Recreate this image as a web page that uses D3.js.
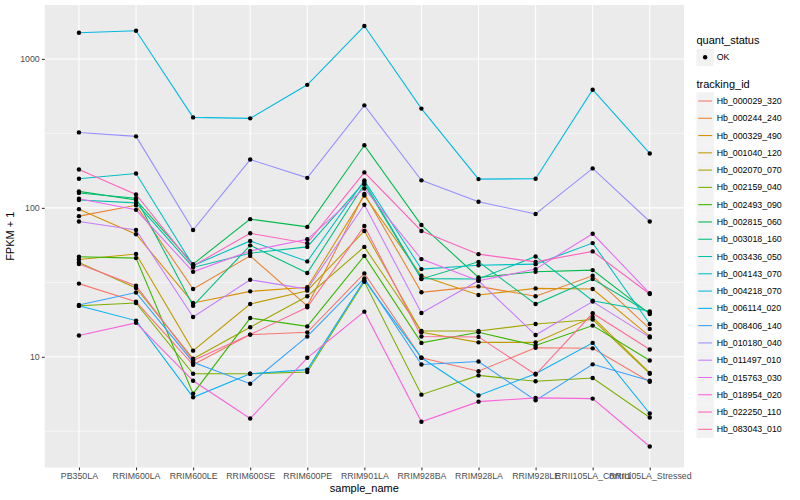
<!DOCTYPE html>
<html>
<head>
<meta charset="utf-8">
<script src="https://cdn.jsdelivr.net/npm/d3@7"></script>
<style>
  body { margin: 0; background: #fff; }
  svg { display: block; font-family: "Liberation Sans", Arial, sans-serif; }
</style>
</head>
<body>
<svg width="800" height="500"></svg>
<script>
// x categories
const samples = ["PB350LA", "RRIM600LA", "RRIM600LE", "RRIM600SE", "RRIM600PE", "RRIM901LA",
  "RRIM928BA", "RRIM928LA", "RRIM928LE", "RRII105LA_Control", "RRII105LA_Stressed"];

const trackingIds = ["Hb_000029_320", "Hb_000244_240", "Hb_000329_490", "Hb_001040_120", "Hb_002070_070",
  "Hb_002159_040", "Hb_002493_090", "Hb_002815_060", "Hb_003018_160", "Hb_003436_050",
  "Hb_004143_070", "Hb_004218_070", "Hb_006114_020", "Hb_008406_140", "Hb_010180_040",
  "Hb_011497_010", "Hb_015763_030", "Hb_018954_020", "Hb_022250_110", "Hb_083043_010"];

const colors = ["#F8766D", "#EA8331", "#D89000", "#C09B00", "#A3A500", "#7CAE00", "#39B600", "#00BB4E",
  "#00BF7D", "#00C1A3", "#00BFC4", "#00BAE0", "#00B0F6", "#35A2FF", "#9590FF", "#C77CFF",
  "#E76BF3", "#FA62DB", "#FF62BC", "#FF6C91"];

// FPKM + 1, one row per tracking id, in sample order
const fpkm = [
  [31, 23.4, 8.84, 14.1, 14.6, 36.3, 9.85, 8.0, 11.5, 11.4, 6.8],
  [88, 104, 28.5, 47.6, 22, 124, 27.1, 29.7, 25.5, 35, 15.4],
  [98, 66.5, 23, 27.5, 29.3, 121, 35, 26, 28.8, 28.5, 13.7],
  [45, 49, 11, 22.6, 27.8, 70, 14.6, 12.5, 12.5, 18.5, 7.8],
  [43, 29, 9.7, 15.8, 25.5, 54.7, 14.9, 14.9, 16.6, 17.8, 7.7],
  [22, 23, 7.7, 7.7, 7.9, 31.9, 5.57, 7.5, 6.85, 7.2, 3.91],
  [47, 46, 5.66, 18.2, 16, 47.6, 12.4, 14.6, 11.9, 16.2, 9.44],
  [129, 113, 41.9, 84, 74.5, 263, 76.7, 34.1, 37.2, 38.2, 19.4],
  [126, 116, 22, 56, 36.5, 144, 33.3, 43.4, 22.6, 33.3, 19.7],
  [113, 108, 39.8, 49.6, 54.7, 149, 33.5, 33.3, 47.2, 23.8, 20.2],
  [157, 170, 41, 60, 43.7, 153, 38.8, 41.2, 41.9, 58, 16.6],
  [1500, 1546, 405, 399, 670, 1663, 464, 156, 157, 621, 232],
  [22, 17.5, 5.35, 7.7, 8.2, 32.7, 9.85, 5.5, 7.7, 12.4, 4.16],
  [22.3, 27, 9.2, 6.6, 13.7, 33.6, 8.88, 9.3, 5.1, 8.9, 6.9],
  [321, 302, 71, 211, 159, 488, 153, 110, 91, 184, 81],
  [81, 71, 18.5, 32.9, 28.5, 105, 19.7, 32.4, 14, 23.5, 13.5],
  [115, 97, 37.2, 51.4, 61.5, 135, 45.3, 32.4, 38.8, 67, 26.7],
  [13.9, 16.9, 6.9, 3.85, 9.85, 20.1, 3.66, 5.0, 5.3, 5.24, 2.5],
  [181, 123, 40.8, 67.5, 57.9, 173, 70, 48.9, 43.4, 51, 26.4],
  [42, 30, 9.45, 14.1, 21.5, 75.5, 13.7, 13.6, 7.6, 19.6, 11.2]
];

const yTicks = [10, 100, 1000];
const yMinor = [Math.pow(10, 0.5), Math.pow(10, 1.5), Math.pow(10, 2.5)];

const svg = d3.select("svg");
const panel = { left: 44.7, right: 684, top: 5, bottom: 467.5 };

// scales (ggplot-like expansion)
const x = d3.scalePoint().domain(samples).range([panel.left, panel.right]).padding(0.6);
const allVals = fpkm.flat();
const lo = Math.log10(d3.min(allVals)), hi = Math.log10(d3.max(allVals));
const pad = (hi - lo) * 0.05;
const y = d3.scaleLog().domain([Math.pow(10, lo - pad), Math.pow(10, hi + pad)])
  .range([panel.bottom, panel.top]);

// panel background and grid
svg.append("rect")
  .attr("x", panel.left).attr("y", panel.top)
  .attr("width", panel.right - panel.left).attr("height", panel.bottom - panel.top)
  .attr("fill", "#EBEBEB");

const grid = svg.append("g").attr("stroke", "#fff").attr("fill", "none");
grid.selectAll(".minor").data(yMinor).join("line")
  .attr("x1", panel.left).attr("x2", panel.right)
  .attr("y1", d => y(d)).attr("y2", d => y(d))
  .attr("stroke-width", 0.53);
grid.selectAll(".majy").data(yTicks).join("line")
  .attr("x1", panel.left).attr("x2", panel.right)
  .attr("y1", d => y(d)).attr("y2", d => y(d))
  .attr("stroke-width", 1.07);
grid.selectAll(".majx").data(samples).join("line")
  .attr("x1", d => x(d)).attr("x2", d => x(d))
  .attr("y1", panel.top).attr("y2", panel.bottom)
  .attr("stroke-width", 1.07);

// lines
const line = d3.line()
  .x((d, i) => x(samples[i]))
  .y(d => y(d));

svg.append("g").selectAll("path").data(fpkm).join("path")
  .attr("d", line)
  .attr("fill", "none")
  .attr("stroke", (d, i) => colors[i])
  .attr("stroke-width", 1.07);

// points
const pts = [];
fpkm.forEach(row => row.forEach((v, i) => pts.push({ s: samples[i], v })));
svg.append("g").selectAll("circle").data(pts).join("circle")
  .attr("cx", d => x(d.s)).attr("cy", d => y(d.v))
  .attr("r", 2.2).attr("fill", "#000");

// axes
const yAxis = svg.append("g").attr("transform", `translate(${panel.left},0)`)
  .call(d3.axisLeft(y).tickValues(yTicks).tickFormat(d3.format("d")).tickSize(2.75).tickPadding(2.2));
const xAxis = svg.append("g").attr("transform", `translate(0,${panel.bottom})`)
  .call(d3.axisBottom(x).tickSize(2.75).tickPadding(2.2));
[yAxis, xAxis].forEach(a => {
  a.select(".domain").remove();
  a.selectAll(".tick line").attr("stroke", "#333333").attr("stroke-width", 1.07);
  a.selectAll(".tick text").attr("fill", "#4D4D4D").attr("font-size", 8.8)
    .attr("font-family", "Liberation Sans, Arial, sans-serif");
});

// axis titles
svg.append("text")
  .attr("x", (panel.left + panel.right) / 2).attr("y", 492)
  .attr("text-anchor", "middle").attr("font-size", 11).text("sample_name");
svg.append("text")
  .attr("transform", `translate(14,${(panel.top + panel.bottom) / 2}) rotate(-90)`)
  .attr("text-anchor", "middle").attr("font-size", 11).text("FPKM + 1");

// legends
const lg = svg.append("g");
const keyX = 696.5, keySize = 17.28, textX = 716.7;

lg.append("text").attr("x", keyX).attr("y", 44).attr("font-size", 11).text("quant_status");
lg.append("rect").attr("x", keyX).attr("y", 57.3 - keySize / 2)
  .attr("width", keySize).attr("height", keySize).attr("fill", "#F2F2F2");
lg.append("circle").attr("cx", keyX + keySize / 2).attr("cy", 57.3).attr("r", 2.2).attr("fill", "#000");
lg.append("text").attr("x", textX).attr("y", 57.3).attr("dy", "0.35em")
  .attr("font-size", 8.8).text("OK");

lg.append("text").attr("x", keyX).attr("y", 88).attr("font-size", 11).text("tracking_id");
const keys = lg.selectAll(".key").data(trackingIds).join("g")
  .attr("transform", (d, i) => `translate(0,${101 + i * keySize})`);
keys.append("rect").attr("x", keyX).attr("y", -keySize / 2)
  .attr("width", keySize).attr("height", keySize).attr("fill", "#F2F2F2");
keys.append("line").attr("x1", keyX + 1.7).attr("x2", keyX + keySize - 1.7)
  .attr("stroke", (d, i) => colors[i]).attr("stroke-width", 1.07);
keys.append("text").attr("x", textX).attr("dy", "0.35em")
  .attr("font-size", 8.8).text(d => d);
</script>
</body>
</html>
